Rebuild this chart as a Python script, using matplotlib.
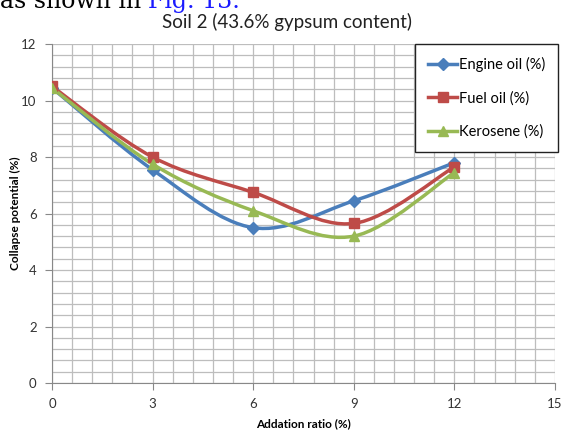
import numpy as np
import matplotlib.pyplot as plt
from matplotlib.path import Path
from matplotlib.patches import PathPatch
from matplotlib.lines import Line2D

# data
ratio = [0, 3, 6, 9, 12]
engine_oil = [10.45, 7.55, 5.5, 6.45, 7.8]
fuel_oil = [10.5, 8.0, 6.75, 5.65, 7.65]
kerosene = [10.45, 7.75, 6.1, 5.2, 7.45]
series_names = ["Engine oil (%)", "Fuel oil (%)", "Kerosene (%)"]

plt.rcParams["font.family"] = ["Lato", "DejaVu Sans"]


def _smooth_path(x, y):
    # Bezier segments through the points (like Excel's smoothed line)
    pts = np.column_stack([x, y]).astype(float)
    n = len(pts)
    verts = [pts[0]]
    codes = [Path.MOVETO]
    for i in range(n - 1):
        p0 = pts[i - 1] if i > 0 else pts[i]
        p1 = pts[i]
        p2 = pts[i + 1]
        p3 = pts[i + 2] if i + 2 < n else pts[i + 1]
        c1 = p1 + (p2 - p0) / 6
        c2 = p2 - (p3 - p1) / 6
        verts += [c1, c2, p2]
        codes += [Path.CURVE4] * 3
    return Path(verts, codes)


fig = plt.figure(figsize=(5.68, 4.32), dpi=100)
ax = fig.add_axes([0.0915, 0.1134, 0.8855, 0.7846])

styles = [
    ("#4A7EBB", "D", 6),
    ("#BE4B48", "s", 7.5),
    ("#98B954", "^", 7.5),
]
handles = []
for vals, name, (col, mk, ms) in zip([engine_oil, fuel_oil, kerosene], series_names, styles):
    patch = PathPatch(_smooth_path(ratio, vals), fill=False, edgecolor=col, linewidth=2.5, zorder=3)
    ax.add_patch(patch)
    ax.plot(ratio, vals, linestyle="none", marker=mk, markersize=ms, color=col, zorder=4)
    handles.append(Line2D([], [], color=col, linewidth=2.5, marker=mk, markersize=ms))

ax.set_xlim(0, 15)
ax.set_ylim(0, 12)
ax.set_xticks([0, 3, 6, 9, 12, 15])
ax.set_yticks([0, 2, 4, 6, 8, 10, 12])
ax.set_xticks(np.arange(0, 15.01, 0.6), minor=True)
ax.set_yticks(np.arange(0, 12.01, 0.4), minor=True)
ax.grid(True, which="both", color="#bdbdbd", linewidth=0.9)
ax.set_axisbelow(True)
ax.tick_params(which="minor", length=0)
ax.tick_params(which="major", length=5, color="#888888", labelsize=9.5, labelcolor="#333333", pad=6)
for s in ["top", "right"]:
    ax.spines[s].set_visible(False)
for s in ["left", "bottom"]:
    ax.spines[s].set_color("#888888")

ax.set_xlabel("Addation ratio (%)", fontsize=8.5, fontweight="bold", labelpad=6)
ax.set_ylabel("Collapse potential (%)", fontsize=8.5, fontweight="bold")
ax.yaxis.set_label_coords(-0.062, 0.5)
fig.text(0.505, 1 - 28 / 432, "Soil 2 (43.6% gypsum content)", fontsize=13.5,
         color="#222222", ha="center", va="baseline")

leg = ax.legend(handles, series_names, loc="upper right", bbox_to_anchor=(1.006, 1.0),
                borderaxespad=0, fontsize=10.5, handlelength=2.0, handletextpad=0.1,
                labelspacing=1.3, borderpad=0.9, fancybox=False, framealpha=1,
                edgecolor="#222222")
leg.get_frame().set_linewidth(1.0)

# page text cut off above the chart
t1 = fig.text(0.0, 1 - 8 / 432, "as shown in", fontsize=17, family="DejaVu Serif", va="baseline")
fig.canvas.draw()
x_end = t1.get_window_extent().x1 / fig.bbox.width
fig.text(x_end + 0.012, 1 - 8 / 432, "Fig. 13.", fontsize=17, family="DejaVu Serif",
         va="baseline", color="#1a1aff")

fig.savefig("out.png", dpi=100)
